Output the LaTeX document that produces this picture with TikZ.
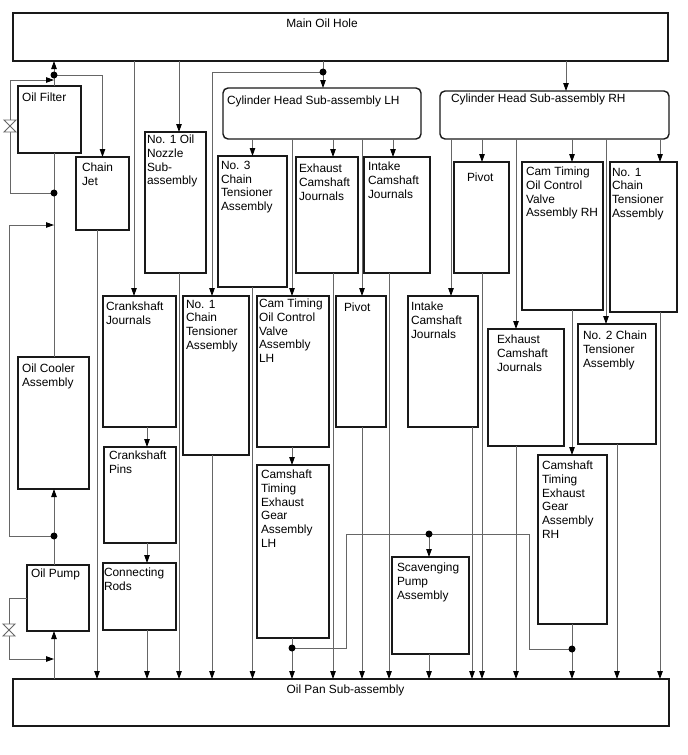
\documentclass[tikz,border=0pt]{standalone}
\usepackage{fontspec}
\setmainfont{Liberation Sans}
\usetikzlibrary{arrows.meta,calc}
\newcommand\fs{\fontsize{11.9}{13.7}\selectfont}
\tikzset{
  box/.style={draw=black!90, line width=1.4pt, fill=white, inner sep=0pt, outer sep=0pt},
  rbox/.style={box, rounded corners=5pt},
  lbl/.style={font=\fs, align=left, inner sep=0pt, outer sep=0pt, anchor=north west},
  con/.style={draw=black!60, line width=0.9pt},
  arr/.style={con, -{Triangle[length=8pt,width=5.5pt,color=black]}},
  jdot/.style={circle, fill=black, inner sep=0pt, minimum size=7pt}
}
% name, x1, y1, x2, y2, dx, dy, text
\newcommand\bx[8]{%
  \node[box, minimum width={(#4-#2)*1pt}, minimum height={(#5-#3)*1pt},
        label={[lbl, xshift=#6pt, yshift=-#7pt]north west:{#8}}] (#1) at ({(#2+#4)/2},{(#3+#5)/2}) {};}
\newcommand\rbx[8]{%
  \node[rbox, minimum width={(#4-#2)*1pt}, minimum height={(#5-#3)*1pt},
        label={[lbl, xshift=#6pt, yshift=-#7pt]north west:{#8}}] (#1) at ({(#2+#4)/2},{(#3+#5)/2}) {};}
\newcommand\valve[2]{%
  \draw[con, fill=white] ({#1-6},{#2-6}) -- ({#1+6},{#2-6}) -- ({#1-6},{#2+6}) -- ({#1+6},{#2+6}) -- cycle;}
\begin{document}
\begin{tikzpicture}[x=1pt, y=-1pt]
\useasboundingbox (0,0) rectangle (688,755);

% main boxes
\node[box, minimum width=655pt, minimum height=48pt,
      label={[lbl, anchor=north, xshift=-18.5pt, yshift=-6pt]north:Main Oil Hole}] (mainoil) at (340.5,37) {};
\node[box, minimum width=656pt, minimum height=47pt,
      label={[lbl, anchor=north, xshift=4.5pt, yshift=-6pt]north:Oil Pan Sub-assembly}] (pan) at (341,702.5) {};

% left column
\bx{filter}{18}{86}{81}{153}{4}{7}{Oil Filter}
\bx{chainjet}{76}{157}{129}{230}{6}{6}{Chain\\Jet}
\bx{cooler}{18}{357}{89}{489}{4}{7}{Oil Cooler\\Assembly}
\bx{pump}{27}{565}{89}{631}{4}{4}{Oil Pump}
\bx{nozzle}{145}{132}{206}{273}{2}{3}{No. 1 Oil\\Nozzle\\Sub-\\assembly}
\bx{crj}{103}{296}{176}{427}{3}{6}{Crankshaft\\Journals}
\bx{crp}{104}{447}{176}{543}{5}{4}{Crankshaft\\Pins}
\bx{rods}{103}{563}{176}{630}{1}{5}{Connecting\\Rods}
\bx{ctl1}{183}{296}{249}{455}{3}{4}{No. 1\\Chain\\Tensioner\\Assembly}

% LH head
\rbx{chlh}{223}{88}{421}{139}{4}{8}{Cylinder Head Sub-assembly LH}
\bx{ct3}{218}{156}{287}{287}{3}{5}{No. 3\\Chain\\Tensioner\\Assembly}
\bx{exlh}{296}{157}{358}{273}{3}{7}{Exhaust\\Camshaft\\Journals}
\bx{inlh}{364}{157}{430}{273}{4}{5}{Intake\\Camshaft\\Journals}
\bx{ocvlh}{257}{296}{329}{447}{2}{3}{Cam Timing\\Oil Control\\Valve\\Assembly\\LH}
\bx{gearlh}{257}{465}{329}{638}{4}{5}{Camshaft\\Timing\\Exhaust\\Gear\\Assembly\\LH}
\bx{pivlh}{336}{296}{386}{427}{8}{7}{Pivot}
\bx{scav}{392}{557}{469}{654}{5}{6}{Scavenging\\Pump\\Assembly}

% RH head
\rbx{chrh}{440}{91}{669}{139}{11}{3}{Cylinder Head Sub-assembly RH}
\bx{inrh}{408}{296}{478}{427}{3}{6}{Intake\\Camshaft\\Journals}
\bx{pivrh}{454}{162}{509}{273}{13}{11}{Pivot}
\bx{exrh}{488}{329}{564}{446}{9}{6}{Exhaust\\Camshaft\\Journals}
\bx{ocvrh}{522}{162}{603}{310}{4}{5}{Cam Timing\\Oil Control\\Valve\\Assembly RH}
\bx{ctr1}{610}{162}{677}{312}{2}{6}{No. 1\\Chain\\Tensioner\\Assembly}
\bx{ct2}{578}{324}{656}{444}{5}{7}{No. 2 Chain\\Tensioner\\Assembly}
\bx{gearrh}{538}{455}{607}{624}{4}{6}{Camshaft\\Timing\\Exhaust\\Gear\\Assembly\\RH}

% junctions
\coordinate (j1) at (54,75);
\coordinate (j2) at (54,193);
\coordinate (j3) at (54,536);
\coordinate (j4) at (323,72);
\coordinate (j5) at (292,648);
\coordinate (j6) at (429,534);
\coordinate (j7) at (572,649);
\coordinate (fb) at (54,80);
\coordinate (cb) at (54,225);
\coordinate (pb) at (54,659);

% oil filter / cooler / pump circuit
\draw[arr] (j1) -- (j1 |- mainoil.south);
\draw[con] (j1 |- filter.north) -- (j1);
\draw[arr] (j1) -| (chainjet.north);
\draw[arr] (j2) -- (10,193) -- (10,80) -- (fb);
\valve{10}{126}
\draw[con] (j2 |- cooler.north) -- (j2 |- filter.south);
\draw[arr] (j3) -- (9,536) -- (9,225) -- (cb);
\draw[arr] (j3) -- (j3 |- cooler.south);
\draw[con] (j3 |- pump.north) -- (j3);
\draw[arr] (j3 |- pan.north) -- (j3 |- pump.south);
\draw[arr] (pump.west) -- (9,598) -- (9,659) -- (pb);
\valve{9}{630}

% left branches
\draw[arr] (97,0 |- chainjet.south) -- (97,0 |- pan.north);
\draw[arr] (134,0 |- mainoil.south) -- (134,0 |- crj.north);
\draw[arr] (147,0 |- crj.south) -- (147,0 |- crp.north);
\draw[arr] (147,0 |- crp.south) -- (147,0 |- rods.north);
\draw[arr] (147,0 |- rods.south) -- (147,0 |- pan.north);
\draw[arr] (179,0 |- mainoil.south) -- (179,0 |- nozzle.north);
\draw[arr] (179,0 |- nozzle.south) -- (179,0 |- pan.north);

% LH head
\draw[con] (j4 |- mainoil.south) -- (j4);
\draw[arr] (j4) -- (j4 |- chlh.north);
\draw[arr] (j4) -- (212,72) -- (212,0 |- ctl1.north);
\draw[arr] (212,0 |- ctl1.south) -- (212,0 |- pan.north);
\draw[arr] (252.5,0 |- chlh.south) -- (252.5,0 |- ct3.north);
\draw[arr] (252.5,0 |- ct3.south) -- (252.5,0 |- pan.north);
\draw[arr] (292,0 |- chlh.south) -- (292,0 |- ocvlh.north);
\draw[arr] (292,0 |- ocvlh.south) -- (292,0 |- gearlh.north);
\draw[con] (292,0 |- gearlh.south) -- (j5);
\draw[arr] (j5) -- (j5 |- pan.north);
\draw[arr] (333,0 |- chlh.south) -- (333,0 |- exlh.north);
\draw[arr] (333,0 |- exlh.south) -- (333,0 |- pan.north);
\draw[arr] (362,0 |- chlh.south) -- (362,0 |- pivlh.north);
\draw[arr] (362,0 |- pivlh.south) -- (362,0 |- pan.north);
\draw[arr] (393,0 |- chlh.south) -- (393,0 |- inlh.north);
\draw[arr] (389,0 |- inlh.south) -- (389,0 |- pan.north);

% scavenging loop
\draw[con] (j5) -- (346,648) -- (346,534) -- (j6);
\draw[con] (j6) -- (529,534) -- (529,649) -- (j7);
\draw[arr] (j6) -- (j6 |- scav.north);
\draw[arr] (j6 |- scav.south) -- (j6 |- pan.north);

% RH head
\draw[arr] (566,0 |- mainoil.south) -- (566,0 |- chrh.north);
\draw[arr] (451,0 |- chrh.south) -- (451,0 |- inrh.north);
\draw[arr] (472,0 |- inrh.south) -- (472,0 |- pan.north);
\draw[arr] (482,0 |- chrh.south) -- (482,0 |- pivrh.north);
\draw[arr] (482,0 |- pivrh.south) -- (482,0 |- pan.north);
\draw[arr] (516,0 |- chrh.south) -- (516,0 |- exrh.north);
\draw[arr] (516,0 |- exrh.south) -- (516,0 |- pan.north);
\draw[arr] (572,0 |- chrh.south) -- (572,0 |- ocvrh.north);
\draw[arr] (572,0 |- ocvrh.south) -- (572,0 |- gearrh.north);
\draw[con] (572,0 |- gearrh.south) -- (j7);
\draw[arr] (j7) -- (j7 |- pan.north);
\draw[arr] (606,0 |- chrh.south) -- (606,0 |- ct2.north);
\draw[arr] (617,0 |- ct2.south) -- (617,0 |- pan.north);
\draw[arr] (660,0 |- chrh.south) -- (660,0 |- ctr1.north);
\draw[arr] (660,0 |- ctr1.south) -- (660,0 |- pan.north);

% junction dots
\foreach \j in {j1,j2,j3,j4,j5,j6,j7} \node[jdot] at (\j) {};
\end{tikzpicture}
\end{document}
